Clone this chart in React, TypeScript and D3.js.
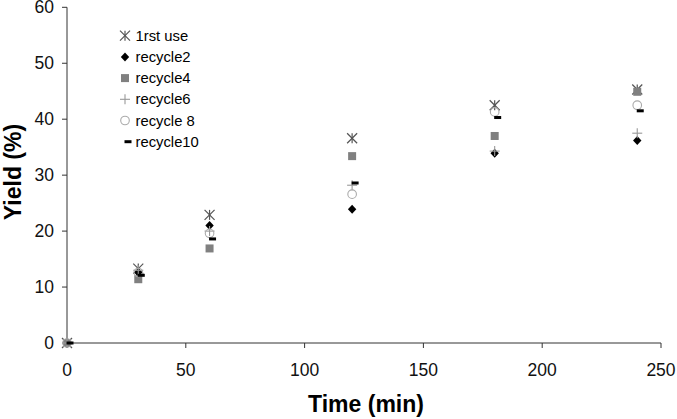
import React from "react";
import * as d3 from "d3";

const times = [0, 30, 60, 120, 180, 240];
const firstUse = [0, 13.3, 22.9, 36.6, 42.5, 45.3];
const recycle2 = [0, 12.6, 21.0, 23.9, 33.9, 36.2];
const recycle4 = [0, 11.4, 16.9, 33.4, 37.0, 44.9];
const recycle6 = [0, 13.0, 20.0, 28.2, 34.3, 37.5];
const recycle8 = [0, 12.6, 19.6, 26.6, 41.3, 42.5];
const recycle10 = [0, 12.1, 18.6, 28.6, 40.3, 41.5];
const seriesNames = ["1rst use", "recycle2", "recycle4", "recycle6", "recycle 8", "recycle10"];
const xTicks = [0, 50, 100, 150, 200, 250];
const yTicks = [0, 10, 20, 30, 40, 50, 60];

const W = 677, H = 419;
const FONT = "'Liberation Sans', Arial, sans-serif";

type Kind = "star" | "diamond" | "square" | "plus" | "circle" | "dash";
const kinds: Kind[] = ["star", "diamond", "square", "plus", "circle", "dash"];

function Marker({ kind, x, y }: { kind: Kind; x: number; y: number }) {
  switch (kind) {
    case "star":
      return (
        <g stroke="#555" strokeWidth={1.2} fill="none">
          <line x1={x - 5} y1={y - 5} x2={x + 5} y2={y + 5} />
          <line x1={x - 5} y1={y + 5} x2={x + 5} y2={y - 5} />
          <line x1={x} y1={y - 5} x2={x} y2={y + 5} />
        </g>
      );
    case "diamond":
      return <path d={`M${x},${y - 4.5}L${x + 4.2},${y}L${x},${y + 4.5}L${x - 4.2},${y}Z`} fill="#000" />;
    case "square":
      return <rect x={x - 4} y={y - 4} width={8} height={8} fill="#808080" />;
    case "plus":
      return (
        <g stroke="#999" strokeWidth={1.1}>
          <line x1={x - 5} y1={y} x2={x + 5} y2={y} />
          <line x1={x} y1={y - 5} x2={x} y2={y + 5} />
        </g>
      );
    case "circle":
      return <circle cx={x} cy={y} r={4.3} fill="none" stroke="#aaa" strokeWidth={1.1} />;
    case "dash":
      return <rect x={x - 0.5} y={y - 1.5} width={7} height={3} fill="#000" />;
  }
}

export default function App() {
  const x = d3.scaleLinear().domain([0, 250]).range([67, 661]);
  const y = d3.scaleLinear().domain([0, 60]).range([343, 7.3]);
  const allSeries = [firstUse, recycle2, recycle4, recycle6, recycle8, recycle10];
  const axisColor = "#333";

  return (
    <svg width={W} height={H} style={{ position: "absolute", left: 0, top: 0, background: "#fff" }} fontFamily={FONT}>
      <rect width={W} height={H} fill="#fff" />
      {/* y axis */}
      <line x1={x(0)} x2={x(0)} y1={y(60)} y2={y(0)} stroke={axisColor} strokeWidth={1} />
      {yTicks.map((t) => (
        <g key={"y" + t}>
          <line x1={x(0) - 5} x2={x(0)} y1={y(t)} y2={y(t)} stroke={axisColor} />
          <text x={54} y={y(t)} dy="0.35em" textAnchor="end" fontSize={17.5} fill="#111">
            {t}
          </text>
        </g>
      ))}
      {/* x axis */}
      <line x1={x(0)} x2={x(250)} y1={y(0)} y2={y(0)} stroke={axisColor} strokeWidth={1} />
      {xTicks.map((t) => (
        <g key={"x" + t}>
          <line x1={x(t)} x2={x(t)} y1={y(0)} y2={y(0) + 5} stroke={axisColor} />
          <text x={x(t)} y={376} textAnchor="middle" fontSize={17.5} fill="#111">
            {t}
          </text>
        </g>
      ))}
      <text x={366} y={412} textAnchor="middle" fontSize={23} fontWeight="bold" fill="#000">
        Time (min)
      </text>
      <text
        transform={`translate(21,172) rotate(-90)`}
        textAnchor="middle"
        fontSize={23}
        fontWeight="bold"
        fill="#000"
      >
        Yield (%)
      </text>
      {/* points */}
      {allSeries.map((s, si) =>
        s.map((v, i) => <Marker key={si + "-" + i} kind={kinds[si]} x={x(times[i])} y={y(v)} />)
      )}
      {/* legend */}
      {seriesNames.map((n, i) => {
        const ly = 35.7 + i * 21.2;
        return (
          <g key={n}>
            <Marker kind={kinds[i]} x={125} y={ly} />
            <text x={135.5} y={ly} dy="0.35em" fontSize={14.8} fill="#000">
              {n}
            </text>
          </g>
        );
      })}
    </svg>
  );
}
